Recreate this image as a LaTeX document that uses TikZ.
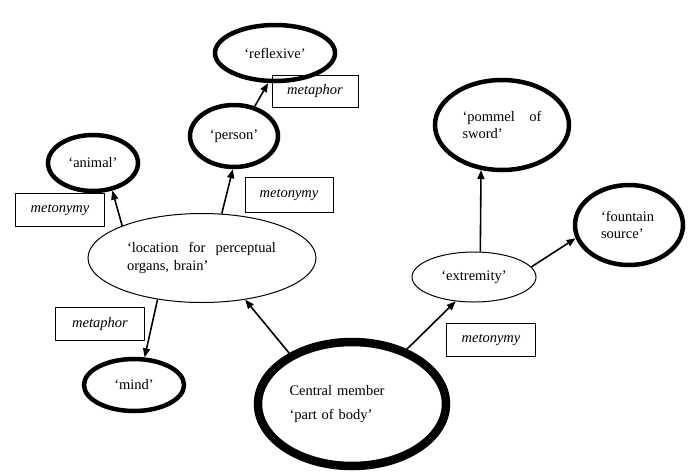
\documentclass[tikz,border=0pt]{standalone}
\usepackage{fontspec}
\setmainfont{Liberation Serif}
\usetikzlibrary{shapes.geometric,arrows.meta}

\begin{document}
\begin{tikzpicture}[x=1pt,y=-1pt,
    sense/.style={draw,ellipse,inner sep=0pt,line width=1pt,font=\fontsize{14.5}{17.5}\selectfont},
    thicksense/.style={sense,line width=4.5pt},
    relbox/.style={draw,rectangle,line width=0.9pt,inner sep=0pt,minimum width=89pt,minimum height=33pt,font=\fontsize{14.5}{17.5}\selectfont\itshape},
    link/.style={-{Triangle[length=9pt,width=7pt]},line width=1.6pt}]
    \useasboundingbox (0,0) rectangle (691,472);

    % Central member
    \node[sense,line width=8.5pt,minimum width=188pt,minimum height=124pt,text width=125pt,align=left] (central) at (352,404) {Central member\\[7pt]‘part of body’};

    % Left branch
    \node[sense,minimum width=228pt,minimum height=89pt,text width=150pt,align=left] (loc) at (202,258) {\makebox[149pt][l]{‘location\hfill for\hfill perceptual}\\organs, brain’};
    \node[thicksense,minimum width=90pt,minimum height=56pt] (animal) at (93,163) {‘animal’};
    \node[thicksense,minimum width=88pt,minimum height=62pt] (person) at (234,136) {‘person’};
    \node[thicksense,minimum width=120pt,minimum height=56pt] (reflexive) at (275,53) {‘reflexive’};
    \node[thicksense,minimum width=100pt,minimum height=52pt] (mind) at (134,385) {‘mind’};

    % Right branch
    \node[sense,minimum width=124pt,minimum height=50pt] (ext) at (474,277) {‘extremity’};
    \node[thicksense,minimum width=134pt,minimum height=90pt,text width=79pt,align=left] (pommel) at (502,125) {\makebox[79pt][l]{‘pommel\hfill of}\\sword’};
    \node[thicksense,minimum width=108pt,minimum height=80pt,text width=56pt,align=left] (fountain) at (629,225) {‘fountain\\source’};

    % Relation labels
    \node[relbox,minimum width=86pt,minimum height=32pt] (metaA) at (315,91) {metaphor};
    \node[relbox] (metoA) at (60,210) {metonymy};
    \node[relbox,minimum width=88pt,minimum height=35pt] (metoB) at (289,194.5) {metonymy};
    \node[relbox] (metaB) at (100,324) {metaphor};
    \node[relbox] (metoC) at (491,340) {metonymy};

    % Extensions
    \draw[link] (loc.158) -- (animal.-55);
    \draw[link] (loc.66) -- (person.-92);
    \draw[link] (person.55) -- (reflexive.-103);
    \draw[link] (loc.-137) -- (mind.69);
    \draw[link] (central.141) -- (loc.-44);
    \draw[link] (central.45) -- (ext.-127);
    \draw[link] (ext.76) -- (pommel.-115);
    \draw[link] (ext.10) -- (fountain.-166);
\end{tikzpicture}
\end{document}
